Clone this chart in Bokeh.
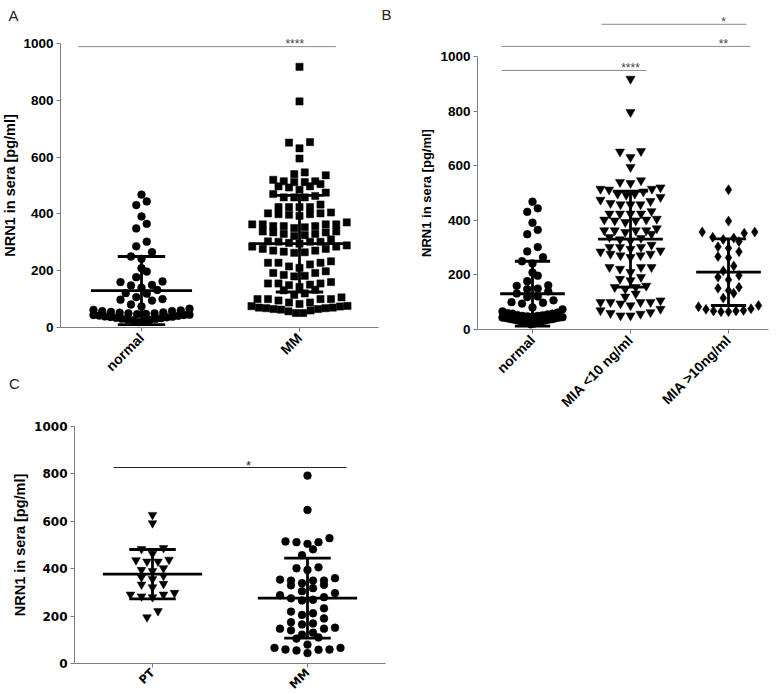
import math
from bokeh.plotting import figure
from bokeh.models import Label, FixedTicker, Range1d, ColumnDataSource, LinearAxis
from bokeh.layouts import row, column
from bokeh.embed import file_html
from bokeh.resources import INLINE

# ---------------- data ----------------
normal = [468, 444, 431, 391, 365, 349, 302, 286, 265, 250, 242,
          209, 197, 177, 162, 160, 150, 148, 140, 132, 121, 119,
          107, 100, 98, 95, 81, 74, 66, 62, 60, 58, 58,
          55, 53, 52, 50, 50, 48, 47, 45, 44, 44, 42, 41, 39, 38, 37,
          36, 34, 33, 31, 30, 28, 27, 25, 22, 19]

mia_low = [918, 796, 653, 651, 631, 595,
           546, 540, 536, 520, 515, 515, 512, 505, 497, 497, 493, 485, 475, 470,
           463, 458, 458, 458, 433, 424, 424, 424, 424, 405, 402, 402, 399, 399, 393,
           370, 363, 363, 363, 363, 357, 350, 338, 335, 330, 325,
           310, 302, 302, 302, 295, 289, 285, 277, 277, 271, 271, 265,
           228, 228, 228, 222, 210, 192, 185, 180,
           160, 155, 155, 149, 131, 120, 106, 100, 100, 100, 100, 95, 88, 75, 70,
           63, 60, 57, 51, 51]

mia_high = [512, 397, 357, 357, 353, 338, 335, 330, 322, 303, 298, 285, 267,
            263, 233, 215, 198, 192, 182, 155, 151, 143, 133, 115, 88, 83,
            76, 74, 70, 68, 68, 65, 65]

mm_all = mia_low + mia_high

pt_c = [627, 592, 487, 483, 463, 438, 436, 430, 430, 402, 395, 390, 370,
        364, 356, 336, 333, 322, 298, 291, 291, 283, 280, 221, 195]

mm_c = [793, 648, 529, 515, 512, 512, 505, 482, 457, 406, 402, 395, 360,
        354, 350, 350, 350, 339, 332, 330, 318, 305, 297, 288, 280, 275,
        269, 266, 233, 219, 212, 205, 190, 174, 169, 165, 151, 147, 147,
        140, 130, 122, 110, 105, 80, 66, 66, 59, 59, 58, 55, 44]

a_categories = ["normal", "MM"]
b_categories = ["normal", "MIA <10 ng/ml", "MIA >10ng/ml"]
c_categories = ["PT", "MM"]

a_mean = [130, 295]
a_sd = [120, 170]
b_mean = [131, 331, 210]
b_sd = [119, 176, 122]
c_mean = [377, 276]
c_sd = [104, 169]

y_ticks = [0, 200, 400, 600, 800, 1000]

# significance brackets: start, end (category units), height, stars, star x
a_sig_x0 = [0.60]; a_sig_x1 = [2.23]; a_sig_y = [989]; a_sig_txt = ["****"]; a_sig_tx = [1.97]
b_sig_x0 = [0.684, 0.684, 1.704]; b_sig_x1 = [2.163, 3.225, 3.184]
b_sig_y = [949, 1037, 1118]; b_sig_txt = ["****", "**", "*"]; b_sig_tx = [2.0, 2.949, 2.949]
c_sig_x0 = [0.749]; c_sig_x1 = [2.252]; c_sig_y = [827]; c_sig_txt = ["*"]; c_sig_tx = [1.62]

AXIS_GRAY = "#7d7d7d"


def swarm(vals, center, sx, sy, marker_px, gap_px, max_half_px):
    vs = sorted(vals)
    h = marker_px / sy
    xs, ys = [], []
    i = 0
    while i < len(vs):
        j = i + 1
        while j < len(vs) and vs[j] - vs[i] < h:
            j += 1
        grp = vs[i:j]
        n = len(grp)
        step = gap_px
        if n > 1 and (n - 1) * step / 2 > max_half_px:
            step = 2 * max_half_px / (n - 1)
        if n % 2:
            slots = [0.0] + [s for m in range(1, n // 2 + 1) for s in (-m, m)]
        else:
            slots = [s for m in range(n // 2) for s in (-(m + 0.5), m + 0.5)]
        for v, k in zip(grp, slots):
            xs.append(center + k * step / sx)
            ys.append(v)
        i = j
    return xs, ys


def px2d(g, px, py):
    return 1 + (px - g["c1"]) / g["sx"], (g["y0"] - py) / g["sy"]


def make_panel(g):
    g["sy"] = (g["y0"] - g["y1000"]) / 1000.0
    g["sx"] = g["cstep"]
    xa0, ya_top = px2d(g, g["cx0"], g["cy0"])
    xa1, ya_bot = px2d(g, g["cx0"] + g["W"], g["cy0"] + g["H"])
    p = figure(width=g["W"], height=g["H"], x_range=Range1d(xa0, xa1),
               y_range=Range1d(ya_bot, ya_top), output_backend="svg",
               toolbar_location=None, title=None,
               x_axis_location=None, y_axis_location=None, min_border=0)
    p.outline_line_color = None
    p.grid.visible = False
    p.background_fill_color = "white"
    p.border_fill_color = "white"
    axx, _ = px2d(g, g["ax"], 0)
    axend, _ = px2d(g, g["xend"], 0)
    ya = LinearAxis(fixed_location=axx, ticker=FixedTicker(ticks=y_ticks), bounds=(0, 1000),
                    axis_line_color=AXIS_GRAY, major_tick_line_color=AXIS_GRAY,
                    major_tick_in=0, major_tick_out=4, minor_tick_in=0, minor_tick_out=0,
                    major_label_standoff=3, major_label_text_font=g["tick_font"],
                    major_label_text_font_style="bold", major_label_text_font_size=g["tick_size"],
                    major_label_text_color="black",
                    axis_label="NRN1 in sera [pg/ml]", axis_label_standoff=g["lab_standoff"],
                    axis_label_text_font="Liberation Sans", axis_label_text_font_style="bold",
                    axis_label_text_font_size=g["lab_size"], axis_label_text_color="black")
    p.add_layout(ya, "left")
    n = len(g["cats"])
    xa = LinearAxis(fixed_location=0, ticker=FixedTicker(ticks=list(range(1, n + 1))),
                    bounds=(axx, axend),
                    major_label_overrides={k + 1: c for k, c in enumerate(g["cats"])},
                    major_label_orientation=math.pi / 4,
                    axis_line_color=AXIS_GRAY, major_tick_line_color=AXIS_GRAY,
                    major_tick_in=0, major_tick_out=4, minor_tick_in=0, minor_tick_out=0,
                    major_label_standoff=g["cat_standoff"], major_label_text_font=g["cat_font"],
                    major_label_text_font_style="bold", major_label_text_font_size=g["cat_size"],
                    major_label_text_color="black")
    p.add_layout(xa, "below")
    return p


def add_groups(p, g, groups, markers, sizes, means, sds):
    for k, (vals, mk, sz) in enumerate(zip(groups, markers, sizes)):
        xs, ys = swarm(vals, k + 1, g["sx"], g["sy"], g["row_px"], g["gap_px"], g["max_half_px"])
        p.scatter(x="x", y="y", source=ColumnDataSource(dict(x=xs, y=ys)),
                  marker=mk, size=sz, fill_color="black", line_color="black", line_width=0.5)
    cx = list(range(1, len(means) + 1))
    mw, cw = g["mean_half"], g["cap_half"]
    src = ColumnDataSource(dict(
        cx=cx, m=means,
        lo=[m - s for m, s in zip(means, sds)],
        hi=[m + s for m, s in zip(means, sds)],
        ml=[c - mw for c in cx], mr=[c + mw for c in cx],
        cl=[c - cw for c in cx], cr=[c + cw for c in cx]))
    for a, b, c, d in [("ml", "m", "mr", "m"), ("cl", "hi", "cr", "hi"),
                       ("cl", "lo", "cr", "lo"), ("cx", "lo", "cx", "hi")]:
        p.segment(x0=a, y0=b, x1=c, y1=d, source=src, line_color="black",
                  line_width=g["bar_w"], line_cap="butt")


def add_sig(p, g, x0, x1, ys, txt, tx, color, tcolor, size):
    p.segment(x0=x0, y0=ys, x1=x1, y1=ys, line_color=color, line_width=1)
    for t, xx, yy in zip(txt, tx, ys):
        p.add_layout(Label(x=xx, y=yy + 2.5 / g["sy"], text=t, text_align="center",
                           text_baseline="alphabetic", text_font="Liberation Sans",
                           text_font_size=size, text_color=tcolor))


def letter(p, g, txt, px, py):
    x, y = px2d(g, px, py)
    p.add_layout(Label(x=x, y=y, text=txt, text_align="center", text_baseline="middle",
                       text_font="Liberation Sans", text_font_size="15px",
                       text_color="#222222"))


# ---------------- panel A ----------------
gA = dict(cx0=0, cy0=0, W=392, H=374, ax=60, y0=327, y1000=43, c1=141, cstep=158, xend=378,
          cats=a_categories, tick_font="Liberation Sans", tick_size="13.5px",
          lab_size="14.5px", lab_standoff=2,
          cat_font="Liberation Sans", cat_size="14px", cat_standoff=4,
          row_px=7.5, gap_px=10.5, max_half_px=48,
          mean_half=0.32, cap_half=0.15, bar_w=2.8)
pA = make_panel(gA)
add_groups(pA, gA, [normal, mm_all], ["circle", "square"], [7.8, 7.2], a_mean, a_sd)
add_sig(pA, gA, a_sig_x0, a_sig_x1, a_sig_y, a_sig_txt, a_sig_tx, "#8a8a8a", "#444444", "12px")
letter(pA, gA, "A", 13, 15)
letter(pA, gA, "B", 386, 14)

# ---------------- panel B ----------------
gB = dict(cx0=392, cy0=0, W=384, H=450, ax=477, y0=329, y1000=56, c1=532, cstep=98, xend=768,
          cats=b_categories, tick_font="Liberation Sans", tick_size="13.5px",
          lab_size="13px", lab_standoff=3,
          cat_font="Liberation Sans", cat_size="14px", cat_standoff=4,
          row_px=7.5, gap_px=10.5, max_half_px=30,
          mean_half=0.33, cap_half=0.18, bar_w=2.8)
pB = make_panel(gB)
add_groups(pB, gB, [normal, mia_low, mia_high],
           ["circle", "inverted_triangle", "diamond"], [7.8, 9.2, 10], b_mean, b_sd)
add_sig(pB, gB, b_sig_x0, b_sig_x1, b_sig_y, b_sig_txt, b_sig_tx, "#8a8a8a", "#444444", "12px")

# ---------------- panel C ----------------
gC = dict(cx0=0, cy0=374, W=392, H=318, ax=74, y0=663, y1000=426, c1=152, cstep=155, xend=385,
          cats=c_categories, tick_font="DejaVu Sans", tick_size="12px",
          lab_size="14.5px", lab_standoff=3,
          cat_font="DejaVu Sans", cat_size="11.5px", cat_standoff=3,
          row_px=7.5, gap_px=11, max_half_px=40,
          mean_half=0.32, cap_half=0.15, bar_w=2.8)
pC = make_panel(gC)
add_groups(pC, gC, [pt_c, mm_c], ["inverted_triangle", "circle"], [8.7, 7.8], c_mean, c_sd)
add_sig(pC, gC, c_sig_x0, c_sig_x1, c_sig_y, c_sig_txt, c_sig_tx, "#222222", "#222222", "13px")
letter(pC, gC, "C", 14, 383)

layout = row(column(pA, pC), pB)
open("out.html", "w").write(file_html(layout, INLINE))
